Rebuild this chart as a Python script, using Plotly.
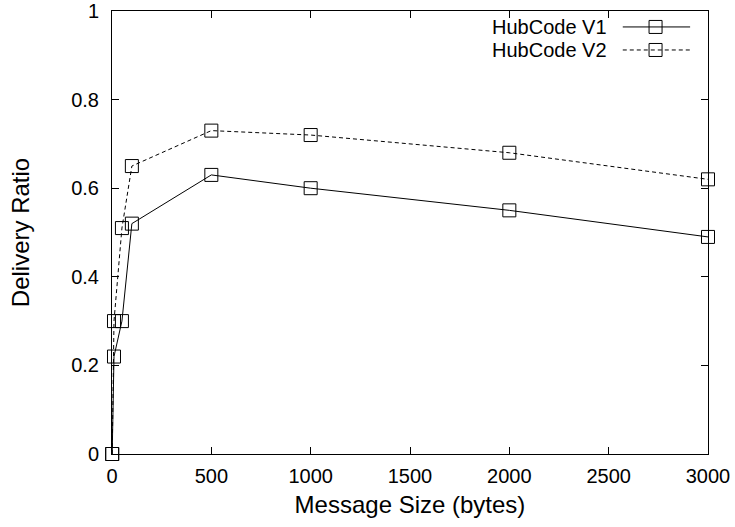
import plotly.graph_objects as go

sizes = [1, 10, 50, 100, 500, 1000, 2000, 3000]
v1 = [0.0, 0.22, 0.30, 0.52, 0.63, 0.60, 0.55, 0.49]
v2 = [0.0, 0.30, 0.51, 0.65, 0.73, 0.72, 0.68, 0.62]
names = ["HubCode V1", "HubCode V2"]
x_ticks = [0, 500, 1000, 1500, 2000, 2500, 3000]
y_ticks = [0, 0.2, 0.4, 0.6, 0.8, 1]
y_tick_text = ["0", "0.2", "0.4", "0.6", "0.8", "1"]

FONT = "Liberation Sans, Arial, sans-serif"
dash_v2 = "4px,3px"

fig = go.Figure()
fig.add_trace(go.Scatter(x=sizes, y=v1, mode="lines+markers", name=names[0],
                         line=dict(color="black", width=1),
                         marker=dict(symbol="square-open", size=13, color="black", line=dict(width=1)),
                         cliponaxis=False, showlegend=False))
fig.add_trace(go.Scatter(x=sizes, y=v2, mode="lines+markers", name=names[1],
                         line=dict(color="black", width=1, dash=dash_v2),
                         marker=dict(symbol="square-open", size=13, color="black", line=dict(width=1)),
                         cliponaxis=False, showlegend=False))

# custom gnuplot-style legend (text left, sample right) on hidden overlay axes
leg_rows = [0.964, 0.912]
for i, (nm, dash) in enumerate(zip(names, ["solid", dash_v2])):
    fig.add_trace(go.Scatter(x=[0.857, 0.970], y=[leg_rows[i]] * 2, mode="lines",
                             line=dict(color="black", width=1, dash=dash),
                             xaxis="x2", yaxis="y2", showlegend=False, hoverinfo="skip"))
    fig.add_trace(go.Scatter(x=[0.912], y=[leg_rows[i]], mode="markers",
                             marker=dict(symbol="square-open", size=13, color="black", line=dict(width=1)),
                             xaxis="x2", yaxis="y2", showlegend=False, hoverinfo="skip"))
    fig.add_annotation(x=0.834, y=leg_rows[i], xref="paper", yref="paper", text=nm,
                       showarrow=False, xanchor="right", yanchor="middle",
                       font=dict(family=FONT, size=20, color="black"))

axis_common = dict(showline=True, linecolor="black", linewidth=1, mirror="allticks",
                   ticks="inside", ticklen=7, tickcolor="black", tickwidth=1,
                   showgrid=False, zeroline=False, automargin=False,
                   tickfont=dict(family=FONT, size=20, color="black"))

fig.update_layout(
    width=735, height=527,
    margin=dict(l=112, r=27, t=11, b=73),
    paper_bgcolor="white", plot_bgcolor="white",
    xaxis=dict(range=[0, 3000], tickvals=x_ticks, ticklabelstandoff=4,
               title=dict(text="Message Size (bytes)", font=dict(family=FONT, size=24, color="black"), standoff=10),
               **axis_common),
    yaxis=dict(range=[0, 1], tickvals=y_ticks, ticktext=y_tick_text, ticklabelstandoff=8,
               title=dict(text="Delivery Ratio", font=dict(family=FONT, size=24, color="black"), standoff=34),
               **axis_common),
    xaxis2=dict(range=[0, 1], overlaying="x", anchor="y2", visible=False, fixedrange=True),
    yaxis2=dict(range=[0, 1], overlaying="y", anchor="x2", visible=False, fixedrange=True),
    showlegend=False,
)

fig.write_html("out.html")
